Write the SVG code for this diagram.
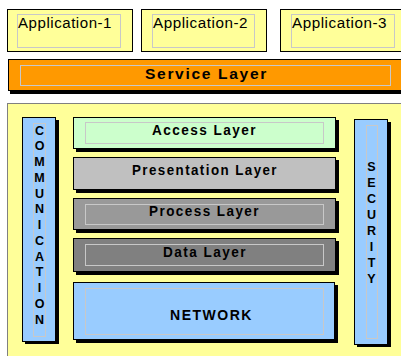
<svg xmlns="http://www.w3.org/2000/svg" width="401" height="356" viewBox="0 0 401 356">
  <style>
    .app { fill: #FFFF99; stroke: #000; stroke-width: 1; }
    .inner { fill: none; stroke: #C8C8C8; stroke-width: 1; }
    .shadow { fill: #000; }
    .box { stroke: #000; stroke-width: 1; }
    .appText { font-family: "Liberation Sans", Arial, sans-serif; font-size: 14px; fill: #000; letter-spacing: 0.5px; }
    .label { font-family: "Liberation Sans", Arial, sans-serif; font-size: 14px; font-weight: bold; fill: #000; letter-spacing: 1.5px; }
    .vert { font-family: "Liberation Sans", Arial, sans-serif; font-size: 12.5px; font-weight: bold; fill: #000; text-anchor: middle; }
  </style>

  <rect x="0" y="0" width="401" height="356" fill="#FFFFFF"/>

  <!-- Applications -->
  <g id="app1">
    <rect class="app" x="7.5" y="9.5" width="125" height="42"/>
    <rect class="inner" x="17.5" y="14.5" width="103" height="33"/>
    <text class="appText" x="18" y="27.5" textLength="94" lengthAdjust="spacingAndGlyphs">Application-1</text>
  </g>
  <g id="app2">
    <rect class="app" x="141.5" y="9.5" width="125" height="42"/>
    <rect class="inner" x="152.5" y="14.5" width="102" height="33"/>
    <text class="appText" x="153" y="27.5" textLength="95" lengthAdjust="spacingAndGlyphs">Application-2</text>
  </g>
  <g id="app3">
    <rect class="app" x="280.5" y="9.5" width="130" height="42"/>
    <rect class="inner" x="291.5" y="14.5" width="103" height="33"/>
    <text class="appText" x="292" y="27.5" textLength="95" lengthAdjust="spacingAndGlyphs">Application-3</text>
  </g>

  <!-- Service layer -->
  <g id="service">
    <rect class="shadow" x="10" y="61" width="400" height="33"/>
    <rect class="box" x="8.5" y="59.5" width="400" height="31" fill="#FF9900"/>
    <rect class="inner" x="20.5" y="65.5" width="370" height="20" stroke="#C0C0C0"/>
    <text class="label" x="145" y="78.5" textLength="123" lengthAdjust="spacingAndGlyphs">Service Layer</text>
  </g>

  <!-- Platform panel -->
  <g id="platform">
    <rect x="7.5" y="103.5" width="400" height="260" fill="#FFFF99" stroke="#808080" stroke-width="1"/>
  </g>

  <!-- Communication column -->
  <g id="communication">
    <rect class="shadow" x="25" y="120" width="34" height="224"/>
    <rect class="box" x="22.5" y="117.5" width="33" height="224" fill="#99CCFF"/>
    <rect class="inner" x="33.5" y="123.5" width="12" height="213" stroke="#B0B0B0"/>
    <text class="vert" x="39.5" y="134.5">C</text>
    <text class="vert" x="39.5" y="150.25">O</text>
    <text class="vert" x="39.5" y="166">M</text>
    <text class="vert" x="39.5" y="181.75">M</text>
    <text class="vert" x="39.5" y="197.5">U</text>
    <text class="vert" x="39.5" y="213.25">N</text>
    <text class="vert" x="39.5" y="229">I</text>
    <text class="vert" x="39.5" y="244.75">C</text>
    <text class="vert" x="39.5" y="260.5">A</text>
    <text class="vert" x="39.5" y="276.25">T</text>
    <text class="vert" x="39.5" y="292">I</text>
    <text class="vert" x="39.5" y="307.75">O</text>
    <text class="vert" x="39.5" y="323.5">N</text>
  </g>

  <!-- Security column -->
  <g id="security">
    <rect class="shadow" x="357" y="122" width="34" height="225"/>
    <rect class="box" x="354.5" y="119.5" width="33" height="225" fill="#99CCFF"/>
    <rect class="inner" x="366.5" y="125.5" width="11" height="213" stroke="#B0B0B0"/>
    <text class="vert" x="371.5" y="170.5">S</text>
    <text class="vert" x="371.5" y="186.5">E</text>
    <text class="vert" x="371.5" y="202.5">C</text>
    <text class="vert" x="371.5" y="218.5">U</text>
    <text class="vert" x="371.5" y="234.5">R</text>
    <text class="vert" x="371.5" y="250.5">I</text>
    <text class="vert" x="371.5" y="266.5">T</text>
    <text class="vert" x="371.5" y="282.5">Y</text>
  </g>

  <!-- Layer stack -->
  <g id="access">
    <rect class="shadow" x="76" y="120" width="263" height="32"/>
    <rect class="box" x="73.5" y="117.5" width="262" height="31" fill="#CCFFCC"/>
    <rect class="inner" x="85.5" y="122.5" width="238" height="21" stroke="#B8D8B8"/>
    <text class="label" x="152" y="134.5" textLength="105" lengthAdjust="spacingAndGlyphs">Access Layer</text>
  </g>
  <g id="presentation">
    <rect class="shadow" x="76" y="160" width="263" height="33"/>
    <rect class="box" x="73.5" y="157.5" width="262" height="32" fill="#C0C0C0"/>
    <text class="label" x="132" y="174.5" textLength="146" lengthAdjust="spacingAndGlyphs">Presentation Layer</text>
  </g>
  <g id="process">
    <rect class="shadow" x="76" y="201" width="263" height="32"/>
    <rect class="box" x="73.5" y="198.5" width="262" height="31" fill="#999999"/>
    <rect class="inner" x="85.5" y="204.5" width="238" height="20" stroke="#B4B4B4"/>
    <text class="label" x="149" y="215.5" textLength="111" lengthAdjust="spacingAndGlyphs">Process Layer</text>
  </g>
  <g id="data">
    <rect class="shadow" x="76" y="241" width="263" height="34"/>
    <rect class="box" x="73.5" y="238.5" width="262" height="33" fill="#808080"/>
    <rect class="inner" x="85.5" y="244.5" width="238" height="21" stroke="#A0A0A0"/>
    <text class="label" x="163" y="256.5" textLength="84" lengthAdjust="spacingAndGlyphs">Data Layer</text>
  </g>
  <g id="network">
    <rect class="shadow" x="76" y="285" width="262" height="58"/>
    <rect class="box" x="73.5" y="282.5" width="261" height="57" fill="#99CCFF"/>
    <rect class="inner" x="85.5" y="288.5" width="238" height="46" stroke="#B8C8D8"/>
    <text class="label" x="170" y="319.5" textLength="83" lengthAdjust="spacingAndGlyphs">NETWORK</text>
  </g>

  <g id="connectors"/>
</svg>
